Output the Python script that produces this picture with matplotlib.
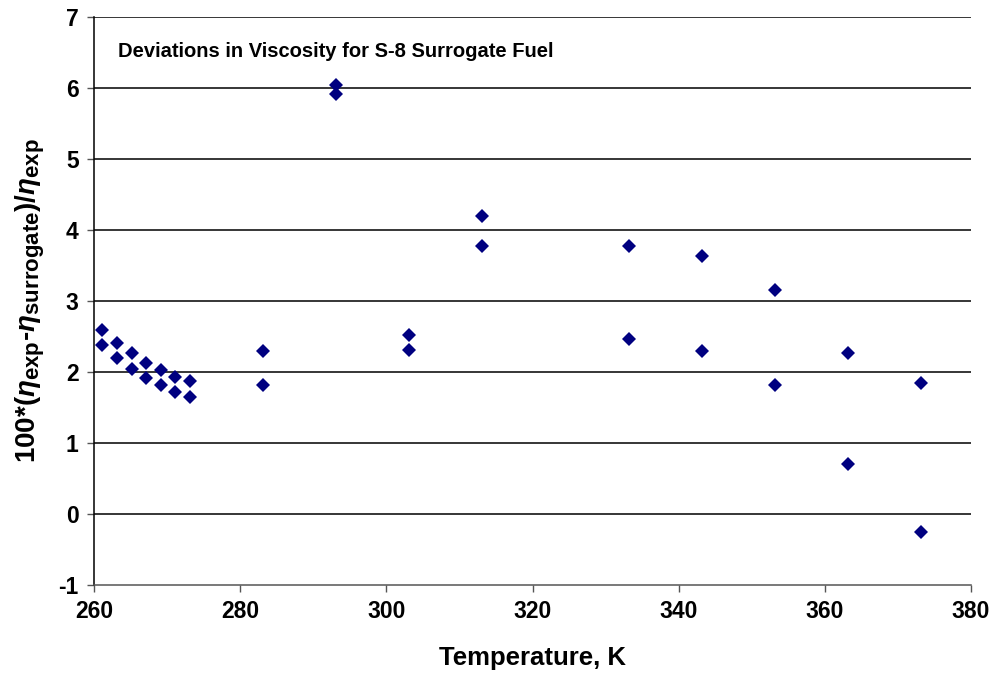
import matplotlib
matplotlib.use("Agg")
import matplotlib.pyplot as plt
import matplotlib._mathtext as _mt

# Temperatures (K) and percent viscosity deviations of the S-8 surrogate
temperature = [261.15, 261.15, 263.15, 263.15, 265.15, 265.15, 267.15, 267.15,
               269.15, 269.15, 271.15, 271.15, 273.15, 273.15,
               283.15, 283.15, 293.15, 293.15, 303.15, 303.15,
               313.15, 313.15, 333.15, 333.15, 343.15, 343.15,
               353.15, 353.15, 363.15, 363.15, 373.15, 373.15]
deviation = [2.59, 2.38, 2.41, 2.20, 2.27, 2.04, 2.13, 1.91,
             2.03, 1.81, 1.93, 1.72, 1.87, 1.65,
             2.30, 1.81, 6.04, 5.92, 2.52, 2.31,
             4.20, 3.77, 3.78, 2.47, 3.64, 2.29,
             3.15, 1.81, 2.27, 0.71, 1.85, -0.25]

x_ticks = [260, 280, 300, 320, 340, 360, 380]
y_ticks = [-1, 0, 1, 2, 3, 4, 5, 6, 7]

plt.rcParams['font.family'] = ['Liberation Sans', 'DejaVu Sans']
plt.rcParams['axes.unicode_minus'] = False
plt.rcParams['mathtext.fontset'] = 'custom'
plt.rcParams['mathtext.rm'] = 'Liberation Sans:bold'
plt.rcParams['mathtext.it'] = 'Liberation Sans:bold:italic'
plt.rcParams['mathtext.bf'] = 'Liberation Sans:bold'
# larger subscripts in the axis label
_mt.SHRINK_FACTOR = 0.8

fig = plt.figure(figsize=(9.95, 6.77), dpi=100)
ax = fig.add_axes([94 / 995, 1 - 585 / 677, (971 - 94) / 995, (585 - 17) / 677])

ax.set_xlim(260, 380)
ax.set_ylim(-1, 7)
ax.set_xticks(x_ticks)
ax.set_yticks(y_ticks)

for yv in y_ticks[1:]:
    ax.axhline(yv, color='black', lw=1.1, zorder=1)

ax.plot(temperature, deviation, linestyle='none', marker='D', ms=7.2,
        color='#000080', markeredgewidth=0, zorder=3)

for side in ['top', 'right']:
    ax.spines[side].set_visible(False)
ax.spines['left'].set_color('black')
ax.spines['left'].set_linewidth(1.1)
ax.spines['bottom'].set_color('#555555')
ax.spines['bottom'].set_linewidth(1.1)

ax.tick_params(axis='both', direction='out', length=5, width=1, color='#555555',
               labelsize=16.5, pad=6)
for lab in ax.get_xticklabels() + ax.get_yticklabels():
    lab.set_fontweight('bold')

ax.set_xlabel('Temperature, K', fontsize=18.5, fontweight='bold', labelpad=16)
ax.set_ylabel(r'100*($\eta_{\mathrm{exp}}$-$\eta_{\mathrm{surrogate}}$)/$\eta_{\mathrm{exp}}$',
              fontsize=20, fontweight='bold', labelpad=8)

ax.text(0.027, 0.94, 'Deviations in Viscosity for S-8 Surrogate Fuel',
        transform=ax.transAxes, fontsize=14.5, fontweight='bold', va='center', ha='left')

fig.savefig('out.png', dpi=100)
